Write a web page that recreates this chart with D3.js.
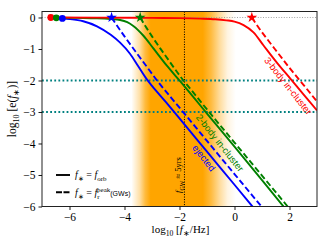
<!DOCTYPE html>
<html>
<head>
<meta charset="utf-8">
<script src="https://cdn.jsdelivr.net/npm/d3@7"></script>
<style>
body{margin:0;background:#fff;}
svg{display:block;}
.tick text{font-family:"Liberation Serif",serif;font-size:11.5px;fill:#000;}
.tick line{stroke:#000;stroke-width:0.9;}
</style>
</head>
<body>
<svg width="327" height="246"></svg>
<script>
// tick values
const xTicks = [-6, -4, -2, 0, 2];
const yTicks = [0, -1, -2, -3, -4, -5, -6];

// [log10 f, log10 e]
const ejectedOrb = [[-6.26,-0.03],[-6.0,-0.05],[-5.5,-0.12],[-5.0,-0.28],[-4.5,-0.55],[-4.16,-0.8],[-3.8,-1.15],[-3.5,-1.55],[-3.2,-1.95],[-3.0,-2.17],[-2.5,-2.68],[-2.0,-3.2],[-1.0,-4.26],[0.0,-5.31],[0.68,-6.03]];
const ejectedPeak = [[-4.47,0],[-4.38,-0.12],[-4.2,-0.35],[-4.0,-0.6],[-3.6,-1.08],[-3.2,-1.55],[-2.8,-2.02],[-2.3,-2.55],[-1.85,-3.02],[-1.0,-3.92],[0.0,-4.97],[1.0,-6.02]];
const twoBodyOrb = [[-6.48,-0.01],[-5.5,-0.015],[-5.0,-0.025],[-4.5,-0.05],[-4.16,-0.08],[-3.9,-0.15],[-3.68,-0.27],[-3.31,-0.58],[-2.95,-0.98],[-2.46,-1.53],[-1.97,-2.03],[-1.5,-2.52],[-1.0,-3.05],[0.0,-4.1],[1.0,-5.16],[1.8,-6.02]];
const twoBodyPeak = [[-3.43,0],[-3.35,-0.12],[-3.2,-0.33],[-3.0,-0.6],[-2.7,-0.98],[-2.4,-1.35],[-1.97,-1.87],[-1.5,-2.38],[-1.0,-2.92],[0.0,-3.97],[1.0,-5.02],[2.0,-6.07]];
const threeBodyOrb = [[-6.68,0],[-5.0,-0.005],[-3.0,-0.012],[-2.0,-0.02],[-1.25,-0.035],[-0.7,-0.055],[-0.3,-0.09],[0.0,-0.13],[0.33,-0.24],[0.69,-0.47],[1.05,-0.88],[1.54,-1.43],[2.03,-1.94],[2.5,-2.43],[3.0,-2.95]];
const threeBodyPeak = [[0.63,0],[0.72,-0.12],[0.9,-0.35],[1.2,-0.7],[1.6,-1.15],[2.0,-1.6],[2.5,-2.13],[3.0,-2.67]];

const seriesNames = ["ejected", "2-body in-cluster", "3-body in-cluster"];
const refLevels = [-2, -3];
const fgwLog = -1.82;
// orange band: [log10 f, opacity]
const bandStops = [[-3.75,0],[-3.45,0.35],[-3.25,0.75],[-3.05,1],[-1.15,1],[-0.85,0.75],[-0.55,0.4],[-0.25,0.12],[0.05,0]];

function main(){
  const svg = d3.select("svg");
  const box = {left: 42, right: 317, top: 11.5, bottom: 206.5};

  const xScale = d3.scaleLinear().domain([-7, 3]).range([box.left, box.right]);
  const yScale = d3.scaleLinear().domain([-6, 0.19]).range([box.bottom, box.top]);

  const defs = svg.append("defs");
  defs.append("clipPath").attr("id", "plot-clip").append("rect")
    .attr("x", box.left).attr("y", box.top)
    .attr("width", box.right - box.left).attr("height", box.bottom - box.top);

  // gradient for the band
  const bx0 = xScale(bandStops[0][0]), bx1 = xScale(bandStops[bandStops.length-1][0]);
  const grad = defs.append("linearGradient").attr("id", "band")
    .attr("gradientUnits", "userSpaceOnUse")
    .attr("x1", bx0).attr("x2", bx1).attr("y1", 0).attr("y2", 0);
  grad.selectAll("stop").data(bandStops).enter().append("stop")
    .attr("offset", d => (xScale(d[0]) - bx0) / (bx1 - bx0))
    .attr("stop-color", "orange")
    .attr("stop-opacity", d => d[1]);

  const plot = svg.append("g").attr("clip-path", "url(#plot-clip)");

  plot.append("rect")
    .attr("x", bx0).attr("y", box.top)
    .attr("width", bx1 - bx0).attr("height", box.bottom - box.top)
    .attr("fill", "url(#band)");

  // e = 1 guide
  plot.append("line")
    .attr("x1", box.left).attr("x2", box.right)
    .attr("y1", yScale(0)).attr("y2", yScale(0))
    .attr("stroke", "#999").attr("stroke-width", 0.9).attr("stroke-dasharray", "1,1.6");

  plot.selectAll(".ref").data(refLevels).enter().append("line").attr("class", "ref")
    .attr("x1", box.left).attr("x2", box.right)
    .attr("y1", d => yScale(d)).attr("y2", d => yScale(d))
    .attr("stroke", "teal").attr("stroke-width", 2).attr("stroke-dasharray", "1.8,2.3");

  plot.append("line")
    .attr("x1", xScale(fgwLog)).attr("x2", xScale(fgwLog))
    .attr("y1", box.top).attr("y2", box.bottom)
    .attr("stroke", "#000").attr("stroke-width", 1).attr("stroke-dasharray", "1.1,1.4");

  const line = d3.line().x(d => xScale(d[0])).y(d => yScale(d[1])).curve(d3.curveMonotoneX);

  const curves = [
    {data: ejectedOrb, color: "blue", dash: null},
    {data: ejectedPeak, color: "blue", dash: "6,3"},
    {data: twoBodyOrb, color: "green", dash: null},
    {data: twoBodyPeak, color: "green", dash: "6,3"},
    {data: threeBodyOrb, color: "red", dash: null},
    {data: threeBodyPeak, color: "red", dash: "6,3"}
  ];

  plot.selectAll(".curve").data(curves).enter().append("path").attr("class", "curve")
    .attr("d", d => line(d.data))
    .attr("fill", "none")
    .attr("stroke", d => d.color)
    .attr("stroke-width", 1.9)
    .attr("stroke-dasharray", d => d.dash);

  // starting points: circles for f_orb, stars for peak frequency
  const starts = [
    {p: threeBodyOrb[0], color: "red"},
    {p: twoBodyOrb[0], color: "green"},
    {p: ejectedOrb[0], color: "blue"}
  ];
  plot.selectAll(".dot").data(starts).enter().append("circle").attr("class", "dot")
    .attr("cx", d => xScale(d.p[0])).attr("cy", d => yScale(d.p[1]))
    .attr("r", 3.4).attr("fill", d => d.color);

  const stars = [
    {p: ejectedPeak[0], color: "blue"},
    {p: twoBodyPeak[0], color: "green"},
    {p: threeBodyPeak[0], color: "red"}
  ];
  plot.selectAll(".star").data(stars).enter().append("path").attr("class", "star")
    .attr("d", d3.symbol().type(d3.symbolStar).size(36))
    .attr("transform", d => `translate(${xScale(d.p[0])},${yScale(d.p[1])})`)
    .attr("fill", d => d.color);

  // labels along the lines
  const angle = Math.atan2(yScale(-1.1) - yScale(0), xScale(1) - xScale(0)) * 180 / Math.PI;
  const labelSpots = [
    {name: seriesNames[0], color: "blue", x: -1.11, y: -4.46},
    {name: seriesNames[1], color: "green", x: -0.53, y: -3.98},
    {name: seriesNames[2], color: "red", x: 1.95, y: -2.17}
  ];
  svg.selectAll(".lab").data(labelSpots).enter().append("text").attr("class", "lab")
    .attr("transform", d => `translate(${xScale(d.x)},${yScale(d.y)}) rotate(${angle})`)
    .attr("text-anchor", "middle").attr("dy", "0.35em")
    .attr("font-family", "Liberation Sans, Arial, sans-serif").attr("font-size", 9.5)
    .attr("fill", d => d.color)
    .text(d => d.name);

  // frame
  svg.append("rect")
    .attr("x", box.left).attr("y", box.top)
    .attr("width", box.right - box.left).attr("height", box.bottom - box.top)
    .attr("fill", "none").attr("stroke", "#222").attr("stroke-width", 1);

  const xAxis = d3.axisBottom(xScale).tickValues(xTicks).tickFormat(d3.format("d"))
    .tickSize(3.5).tickSizeOuter(0).tickPadding(2.5);
  const yAxis = d3.axisLeft(yScale).tickValues(yTicks).tickFormat(d3.format("d"))
    .tickSize(3.5).tickSizeOuter(0).tickPadding(3);
  svg.append("g").attr("transform", `translate(0,${box.bottom})`).call(xAxis).select(".domain").remove();
  svg.append("g").attr("transform", `translate(${box.left},0)`).call(yAxis).select(".domain").remove();

  // math text helper
  function addParts(text, parts, size){
    let shift = 0;
    parts.forEach(p => {
      const target = p.sub ? size * 0.3 : p.sup ? -size * 0.4 : 0;
      const ts = text.append("tspan").text(p.t).attr("dy", target - shift);
      shift = target;
      if (p.sub || p.sup) ts.attr("font-size", size * 0.7);
      if (p.size) ts.attr("font-size", p.size);
      if (p.i) ts.attr("font-style", "italic");
      if (p.sans) ts.attr("font-family", "Liberation Sans, Arial, sans-serif");
      if (p.dx) ts.attr("dx", p.dx);
    });
  }

  const serif = "Liberation Serif, serif";

  const xl = svg.append("text").attr("x", (box.left + box.right) / 2 + 1).attr("y", 233)
    .attr("text-anchor", "middle").attr("font-family", serif).attr("font-size", 11);
  addParts(xl, [{t: "log"}, {t: "10", sub: true}, {t: " ["}, {t: "f", i: true}, {t: "∗", sub: true}, {t: "/Hz]"}], 11);

  const yl = svg.append("text").attr("transform", `translate(16,${(box.top + box.bottom) / 2}) rotate(-90)`)
    .attr("text-anchor", "middle").attr("font-family", serif).attr("font-size", 11.5);
  addParts(yl, [{t: "log"}, {t: "10", sub: true}, {t: " [e("}, {t: "f", i: true}, {t: "∗", sub: true}, {t: ")]"}], 11.5);

  const fl = svg.append("text").attr("transform", `translate(${xScale(fgwLog) - 3.5},${yScale(-5.0)}) rotate(-90)`)
    .attr("text-anchor", "middle").attr("font-family", serif).attr("font-size", 8.5);
  addParts(fl, [{t: "f", i: true}, {t: "GW", sub: true}, {t: " ≈ 5yrs"}], 8.5);

  // legend
  const legend = svg.append("g");
  const legY = [yScale(-5.0), yScale(-5.55)];
  legend.append("line").attr("x1", 56).attr("x2", 70).attr("y1", legY[0]).attr("y2", legY[0])
    .attr("stroke", "#000").attr("stroke-width", 1.9);
  legend.append("line").attr("x1", 56).attr("x2", 70).attr("y1", legY[1]).attr("y2", legY[1])
    .attr("stroke", "#000").attr("stroke-width", 1.9).attr("stroke-dasharray", "6,1.5");
  const l1 = legend.append("text").attr("x", 75).attr("y", legY[0] + 3.5).attr("font-family", serif).attr("font-size", 10);
  addParts(l1, [{t: "f", i: true}, {t: "∗", sub: true}, {t: " = "}, {t: "f", i: true}, {t: "orb", sub: true}], 10);
  const l2 = legend.append("text").attr("x", 75).attr("y", legY[1] + 3.5).attr("font-family", serif).attr("font-size", 10);
  addParts(l2, [{t: "f", i: true}, {t: "∗", sub: true}, {t: " = "}, {t: "f", i: true}, {t: "r", sub: true}, {t: "peak", sup: true, dx: -2.5}, {t: "(GWs)", sans: true, size: 7}], 10);
}

main();
</script>
</body>
</html>
